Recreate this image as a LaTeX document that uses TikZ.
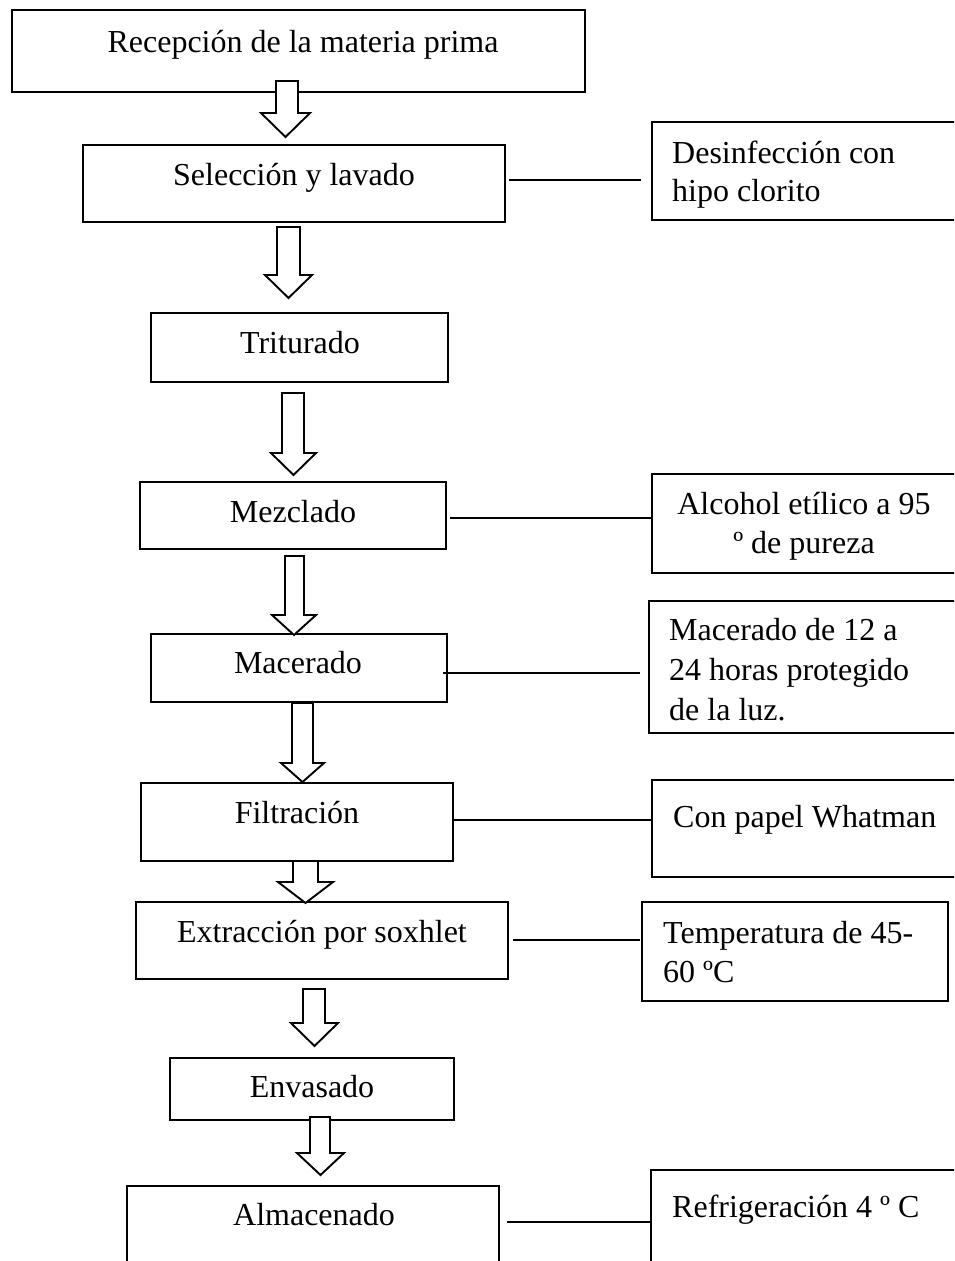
\documentclass[tikz,border=0pt]{standalone}
\usepackage{fontspec}
\setmainfont{Liberation Serif}
\usetikzlibrary{fit}
\tikzset{
  x=1pt, y=-1pt,
  boxshape/.style={draw=black, line width=2.4pt, inner sep=0pt, rectangle},
  txt/.style={font=\fontsize{32}{38}\selectfont, inner sep=0pt, text=black},
  link/.style={draw=black, line width=1.6pt},
  blk/.style={draw=black, fill=white, line width=1.9pt, line join=miter}
}
\newcommand\mkbox[5]{%
  \coordinate (#1-nw) at (#2,#3);
  \coordinate (#1-se) at (#4,#5);
  \node[boxshape, fit=(#1-nw)(#1-se)] (#1) {};}
\newcommand\blkarrow[7]{%
  \draw[blk] (#1,#3) -- (#2,#3) -- (#2,#4) -- (#6,#4) -- ({(#5+#6)/2},#7) -- (#5,#4) -- (#1,#4) -- cycle;}
\begin{document}
\begin{tikzpicture}
\useasboundingbox (0,0) rectangle (954,1261);
\clip (0,0) rectangle (954,1261);
\fill[white] (0,0) rectangle (954,1261);

% main boxes
\mkbox{b1}{12}{10}{585}{92}
\mkbox{b2}{83}{145}{505}{222}
\mkbox{b3}{151}{313}{448}{382}
\mkbox{b4}{140}{482}{446}{549}
\mkbox{b5}{151}{634}{447}{702}
\mkbox{b6}{141}{783}{453}{861}
\mkbox{b7}{136}{902}{508}{979}
\mkbox{b8}{170}{1058}{454}{1120}
\mkbox{b9}{127}{1186}{499}{1320}

% side boxes
\mkbox{s1}{652}{122}{1000}{220}
\mkbox{s2}{652}{474}{1000}{573}
\mkbox{s3}{649}{601}{1000}{733}
\mkbox{s4}{652}{780}{1000}{877}
\mkbox{s5}{642}{902}{948}{1001}
\mkbox{s6}{651}{1170}{1000}{1320}

% main texts
\node[txt, anchor=base] (t1) at (303,52) {Recepción de la materia prima};
\node[txt, anchor=base] (t2) at (294,185) {Selección y lavado};
\node[txt, anchor=base] (t3) at (300,353) {Triturado};
\node[txt, anchor=base] (t4) at (293,522) {Mezclado};
\node[txt, anchor=base] (t5) at (298,673) {Macerado};
\node[txt, anchor=base] (t6) at (297,823) {Filtración};
\node[txt, anchor=base] (t7) at (322,942) {Extracción por soxhlet};
\node[txt, anchor=base] (t8) at (312,1097) {Envasado};
\node[txt, anchor=base] (t9) at (314,1225) {Almacenado};

% side texts
\node[txt, anchor=base west] (u1a) at (672,163) {Desinfección con};
\node[txt, anchor=base west] (u1b) at (672,201) {hipo clorito};
\node[txt, anchor=base] (u2a) at (804,514) {Alcohol etílico a 95};
\node[txt, anchor=base] (u2b) at (804,553) {º de pureza};
\node[txt, anchor=base west] (u3a) at (669,640) {Macerado de 12 a};
\node[txt, anchor=base west] (u3b) at (669,680) {24 horas protegido};
\node[txt, anchor=base west] (u3c) at (669,720) {de la luz.};
\node[txt, anchor=base west] (u4) at (673,827) {Con papel Whatman};
\node[txt, anchor=base west] (u5a) at (663,943) {Temperatura de 45-};
\node[txt, anchor=base west] (u5b) at (663,982) {60 ºC};
\node[txt, anchor=base west] (u6) at (672,1217) {Refrigeración 4 º C};

% side connectors
\coordinate (c1a) at (509,180);  \coordinate (c1b) at (641,180);
\coordinate (c2a) at (450,518);  \coordinate (c2b) at (651,518);
\coordinate (c3a) at (443,673);  \coordinate (c3b) at (640,673);
\coordinate (c4a) at (453,820);  \coordinate (c4b) at (652,820);
\coordinate (c5a) at (513,940);  \coordinate (c5b) at (640,940);
\coordinate (c6a) at (507,1222); \coordinate (c6b) at (650,1222);
\draw[link] (c1a) -- (c1b);
\draw[link] (c2a) -- (c2b);
\draw[link] (c3a) -- (c3b);
\draw[link] (c4a) -- (c4b);
\draw[link] (c5a) -- (c5b);
\draw[link] (c6a) -- (c6b);

% block arrows
\blkarrow{276}{298}{81}{113}{261}{310}{137}
\blkarrow{277}{300}{227}{275}{265}{312}{298}
\blkarrow{282}{304}{393}{453}{271}{316}{475}
\blkarrow{285}{304}{556}{615}{272}{316}{635}
\blkarrow{292}{313}{703}{763}{281}{324}{782}
\blkarrow{293}{318}{861}{882}{278}{333}{903}
\blkarrow{303}{325}{989}{1023}{291}{338}{1046}
\blkarrow{310}{330}{1117}{1153}{297}{344}{1175}
\end{tikzpicture}
\end{document}
